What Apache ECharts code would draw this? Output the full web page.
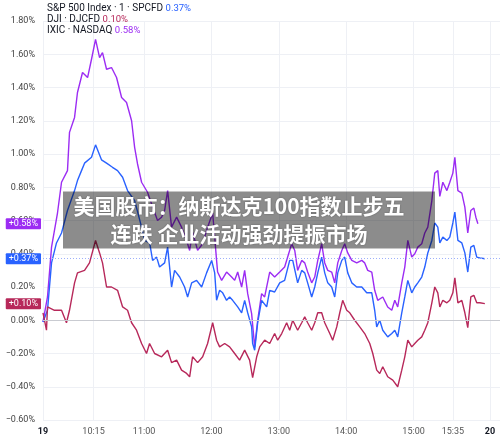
<!DOCTYPE html>
<html>
<head>
<meta charset="utf-8">
<script src="https://cdn.jsdelivr.net/npm/echarts@6/dist/echarts.min.js"></script>
<style>
  html, body { margin: 0; padding: 0; background: #fff; }
  #chart { width: 500px; height: 441px; }
</style>
</head>
<body>
<div id="chart"></div>
<script>
// minutes after 9:30 -> % change
const spxData = [
  [0, -0.01], [4, 0.06], [7.6, 0.345], [12, 0.465], [16.5, 0.525], [21.8, 0.66], [28.1, 0.78],
  [30.7, 0.84], [34.3, 0.90], [37, 0.945], [43.2, 0.98], [46.8, 1.055], [52.1, 0.965], [56.6, 0.945],
  [61.9, 0.92], [66.4, 0.90], [70.9, 0.86], [75.3, 0.78], [81.6, 0.72], [87.8, 0.56], [90.5, 0.48],
  [95, 0.465], [97.6, 0.36], [101.2, 0.38], [103.8, 0.32], [108.3, 0.345], [111, 0.44], [114.5, 0.20],
  [117.2, 0.30], [121.7, 0.26], [126.1, 0.20], [128.8, 0.14], [132.4, 0.225], [136.8, 0.24], [141.3, 0.20],
  [145.7, 0.285], [150.2, 0.36], [152.9, 0.285], [154.6, 0.12], [157.3, 0.18], [160, 0.165], [163.5, 0.12],
  [166.2, 0.14], [168.9, 0.12], [173.4, 0.08], [176.9, 0.045], [179.6, 0.12], [182.3, 0.045], [185.8, -0.04],
  [186.7, -0.14], [188.5, -0.18], [191.2, -0.015], [194.7, 0.12], [199.2, 0.08], [201.9, 0.18], [206.3, 0.17],
  [210.8, 0.225], [215.2, 0.24], [219.7, 0.36], [222.4, 0.36], [226.8, 0.225], [230.4, 0.30], [233.1, 0.285],
  [235.7, 0.225], [239.3, 0.14], [242, 0.20], [244.7, 0.285], [248.2, 0.38], [250.9, 0.285], [253.6, 0.225],
  [257.1, 0.20], [259.8, 0.14], [262.5, 0.285], [266.1, 0.36], [268.7, 0.38], [271.4, 0.285], [275, 0.225],
  [279.4, 0.20], [283.9, 0.20], [288.3, 0.165], [292.8, 0.165], [295.4, 0.06], [297.2, -0.04], [299.9, 0.00],
  [302.6, -0.06], [307, -0.10], [310.6, -0.08], [313.3, -0.06], [315.9, -0.10], [319.5, 0.045], [322.2, 0.14],
  [324.9, 0.24], [328.4, 0.165], [331.1, 0.20], [333.8, 0.225], [337.3, 0.26], [340, 0.32], [342.7, 0.405],
  [346.3, 0.48], [348.9, 0.585], [351.6, 0.56], [353.4, 0.465], [356.1, 0.50], [359.7, 0.48], [362.3, 0.50],
  [365, 0.585], [366.8, 0.65], [369.5, 0.48], [373, 0.465], [375.7, 0.405], [378.3, 0.29], [381, 0.44],
  [383.7, 0.45], [386.3, 0.38], [389, 0.375], [393.5, 0.37]
]
const djiData = [
  [0, 0.045], [3.1, -0.06], [4, 0.08], [10.2, 0.06], [16.5, 0.06], [20.9, -0.015], [23.6, 0.06],
  [28.1, 0.225], [30.7, 0.285], [37, 0.30], [41.4, 0.345], [46.8, 0.48], [50.4, 0.405], [53, 0.345],
  [56.6, 0.20], [61, 0.20], [66.4, 0.18], [70.9, 0.08], [75.3, 0.06], [78.9, -0.015], [83.3, -0.06],
  [87.8, -0.14], [92.2, -0.20], [94.9, -0.14], [99.4, -0.20], [105.6, -0.22], [111, -0.18], [114.5, -0.255],
  [119, -0.24], [123.4, -0.30], [127.9, -0.32], [130.6, -0.34], [133.2, -0.22], [137.7, -0.255], [142.2, -0.22],
  [146.6, -0.14], [151.1, -0.015], [154.6, -0.12], [157.3, -0.16], [161.8, -0.14], [166.2, -0.16], [170.7, -0.20],
  [175.1, -0.24], [179.6, -0.18], [184, -0.24], [186.7, -0.345], [190.3, -0.22], [193, -0.16], [197.4, -0.12],
  [201.9, -0.14], [206.3, -0.08], [209, -0.12], [212.6, -0.08], [217, -0.015], [219.7, -0.06], [222.4, 0.00],
  [226.8, -0.06], [230.4, -0.015], [233.1, 0.02], [235.7, -0.015], [239.3, -0.06], [242, -0.015], [244.7, 0.045],
  [248.2, 0.045], [250.9, -0.015], [255.4, -0.08], [258, -0.12], [261.6, -0.04], [264.3, 0.045], [266.9, 0.12],
  [270.5, 0.06], [273.2, 0.045], [277.6, 0.00], [282.1, -0.04], [286.5, -0.08], [291, -0.14], [293.7, -0.20],
  [297.2, -0.30], [299.9, -0.32], [302.6, -0.28], [307, -0.34], [311.5, -0.36], [315.9, -0.40], [319.5, -0.30],
  [322.2, -0.22], [324.9, -0.12], [328.4, -0.16], [331.1, -0.14], [333.8, -0.12], [337.3, -0.10], [340, -0.06],
  [342.7, -0.015], [346.3, 0.105], [348.9, 0.20], [351.6, 0.165], [353.4, 0.08], [356.1, 0.12], [359.7, 0.105],
  [362.3, 0.12], [365, 0.165], [366.8, 0.255], [369.5, 0.105], [373, 0.12], [375.7, 0.045], [378.3, -0.045],
  [381, 0.14], [383.7, 0.15], [386.3, 0.105], [389, 0.105], [393.5, 0.10]
]
const ixicData = [
  [0, -0.01], [4, 0.14], [7.6, 0.44], [12.9, 0.645], [16.5, 0.83], [21.8, 0.90], [23.6, 1.13], [28.1, 1.22],
  [30.7, 1.37], [35.2, 1.49], [39.7, 1.46], [43.2, 1.57], [46.8, 1.69], [50.4, 1.58], [53, 1.61], [56.6, 1.51],
  [61, 1.52], [65.5, 1.46], [70, 1.34], [74.4, 1.31], [78.9, 1.20], [81.6, 1.04], [84.2, 0.94], [87.8, 0.83],
  [93.1, 0.77], [96.7, 0.70], [102, 0.60], [105.6, 0.62], [108.3, 0.66], [111, 0.78], [114.5, 0.56], [119, 0.62],
  [123.4, 0.56], [127.9, 0.48], [130.6, 0.42], [133.2, 0.53], [137.7, 0.42], [142.2, 0.46], [146.6, 0.56],
  [151.1, 0.645], [154.6, 0.36], [155.5, 0.29], [159.1, 0.24], [163.5, 0.29], [168, 0.26], [170.7, 0.24],
  [173.4, 0.29], [176.9, 0.20], [179.6, 0.30], [182.3, 0.16], [185.8, 0.04], [188.5, -0.16], [191.2, 0.00],
  [194.7, 0.16], [197.4, 0.14], [201.9, 0.29], [206.3, 0.26], [210.8, 0.29], [215.2, 0.32], [217.9, 0.38],
  [221.5, 0.46], [224.2, 0.42], [226.8, 0.30], [230.4, 0.36], [233.1, 0.345], [235.7, 0.29], [239.3, 0.225],
  [242, 0.26], [244.7, 0.36], [248.2, 0.46], [250.9, 0.345], [253.6, 0.30], [257.1, 0.29], [259.8, 0.225],
  [262.5, 0.345], [266.1, 0.42], [268.7, 0.46], [271.4, 0.405], [275, 0.36], [279.4, 0.345], [283.9, 0.36],
  [286.5, 0.345], [289.2, 0.30], [292.8, 0.29], [295.4, 0.18], [298.1, 0.12], [302.6, 0.14], [307, 0.08],
  [310.6, 0.06], [313.3, 0.12], [315.9, 0.08], [319.5, 0.225], [322.2, 0.32], [324.9, 0.48], [328.4, 0.38],
  [331.1, 0.40], [333.8, 0.44], [337.3, 0.46], [340, 0.525], [342.7, 0.56], [346.3, 0.72], [348.9, 0.885],
  [351.6, 0.90], [353.4, 0.745], [356.1, 0.83], [359.7, 0.78], [362.3, 0.83], [365, 0.885], [366.8, 0.98],
  [369.5, 0.78], [373, 0.765], [375.7, 0.68], [378.3, 0.525], [381, 0.66], [383.7, 0.675], [385.5, 0.62],
  [387.3, 0.58]
]
const tickMinutes = [0, 45, 90, 150, 210, 270, 330, 365, 398]
const tickLabels = ['19', '10:15', '11:00', '12:00', '13:00', '14:00', '15:00', '15:35', '20']
const lastValues = { spx: 0.37, dji: 0.10, ixic: 0.58 }
const headline = ['美国股市：纳斯达克100指数止步五', '连跌 企业活动强劲提振市场']

const colors = { spx: '#2962ff', dji: '#b7285a', ixic: '#9c2cf3' }
const font = 'Roboto, "Liberation Sans", Arial, sans-serif'

function pct (v) {
  return (v < 0 ? '\u2212' : '') + Math.abs(v).toFixed(2) + '%'
}

function tag (value, color, dotted) {
  return {
    silent: true,
    symbol: 'none',
    animation: false,
    zlevel: 1,
    z: 10,
    data: [{ yAxis: value }],
    lineStyle: dotted
      ? { color: '#9db0fb', type: [1, 2], width: 1 }
      : { color: 'transparent', width: 1 },
    label: {
      show: true,
      position: 'start',
      distance: 2,
      formatter: '+' + value.toFixed(2) + '%',
      color: '#fff',
      backgroundColor: color,
      padding: [1, 3, 1, 3],
      borderRadius: 1,
      fontSize: 9,
      fontFamily: font
    }
  }
}

function line (name, data, color, value, dotted) {
  return {
    name: name,
    type: 'line',
    data: data,
    showSymbol: false,
    symbol: 'none',
    z: 3,
    lineStyle: { color: color, width: 1.4 },
    itemStyle: { color: color },
    markLine: tag(value, color, dotted)
  }
}

const chart = echarts.init(document.getElementById('chart'))
chart.setOption({
  animation: false,
  backgroundColor: '#fff',
  title: [
    {
      left: 47,
      top: 3,
      padding: 0,
      text: '{t|S&P 500 Index · 1 · SPCFD} {s|' + lastValues.spx.toFixed(2) + '%}\n' +
        '{t|DJI · DJCFD} {d|' + lastValues.dji.toFixed(2) + '%}\n' +
        '{t|IXIC · NASDAQ} {n|' + lastValues.ixic.toFixed(2) + '%}',
      textStyle: {
        fontSize: 9,
        lineHeight: 11,
        fontWeight: 'normal',
        rich: {
          t: { color: '#131722', fontSize: 10, lineHeight: 11, fontFamily: font },
          s: { color: colors.spx, fontSize: 9.5, lineHeight: 11, fontFamily: font },
          d: { color: colors.dji, fontSize: 9.5, lineHeight: 11, fontFamily: font },
          n: { color: colors.ixic, fontSize: 9.5, lineHeight: 11, fontFamily: font }
        }
      },
      z: 8
    },
    {
      left: 63,
      top: 188,
      text: headline.map(function (s) { return '{h|' + s + '}' }).join('\n'),
      backgroundColor: 'rgba(0,0,0,0.45)',
      padding: [4, 30, 4, 10],
      zlevel: 2,
      textStyle: {
        rich: {
          h: {
            width: 332,
            align: 'center',
            color: '#fff',
            fontSize: 21,
            fontWeight: 'bold',
            lineHeight: 28,
            fontFamily: '"Noto Sans CJK SC", sans-serif',
            textShadowColor: 'rgba(0,0,0,0.35)',
            textShadowBlur: 2
          }
        }
      },
      z: 10
    }
  ],
  grid: { left: 43, right: 0, top: 21, bottom: 21 },
  xAxis: {
    type: 'value',
    min: 0,
    max: 407,
    axisLine: { show: false },
    axisTick: { show: false, customValues: tickMinutes },
    splitLine: { show: true, lineStyle: { color: '#eef0f5', width: 1 } },
    axisLabel: {
      customValues: tickMinutes,
      margin: 7,
      fontSize: 9,
      color: '#555',
      fontFamily: font,
      formatter: function (v) {
        const i = tickMinutes.indexOf(v)
        const s = i >= 0 ? tickLabels[i] : ''
        return (i === 0 || i === tickLabels.length - 1) ? '{b|' + s + '}' : s
      },
      rich: { b: { fontWeight: 'bold', color: '#131722', fontSize: 9, fontFamily: font } }
    }
  },
  yAxis: {
    type: 'value',
    min: -0.6,
    max: 1.8,
    interval: 0.2,
    axisLine: { show: false },
    axisTick: { show: false },
    splitLine: { lineStyle: { color: '#eef0f5', width: 1 } },
    axisLabel: {
      margin: 8,
      fontSize: 9,
      color: '#444',
      fontFamily: font,
      formatter: pct
    }
  },
  series: [
    {
      type: 'line',
      data: [],
      silent: true,
      markLine: {
        silent: true,
        symbol: 'none',
        animation: false,
        data: [{ yAxis: 0 }],
        lineStyle: { color: '#c9cbd1', type: 'solid', width: 1 },
        label: { show: false }
      }
    },
    line('IXIC', ixicData, colors.ixic, lastValues.ixic, false),
    line('S&P 500', spxData, colors.spx, lastValues.spx, true),
    line('DJI', djiData, colors.dji, lastValues.dji, false)
  ]
})
</script>
</body>
</html>
